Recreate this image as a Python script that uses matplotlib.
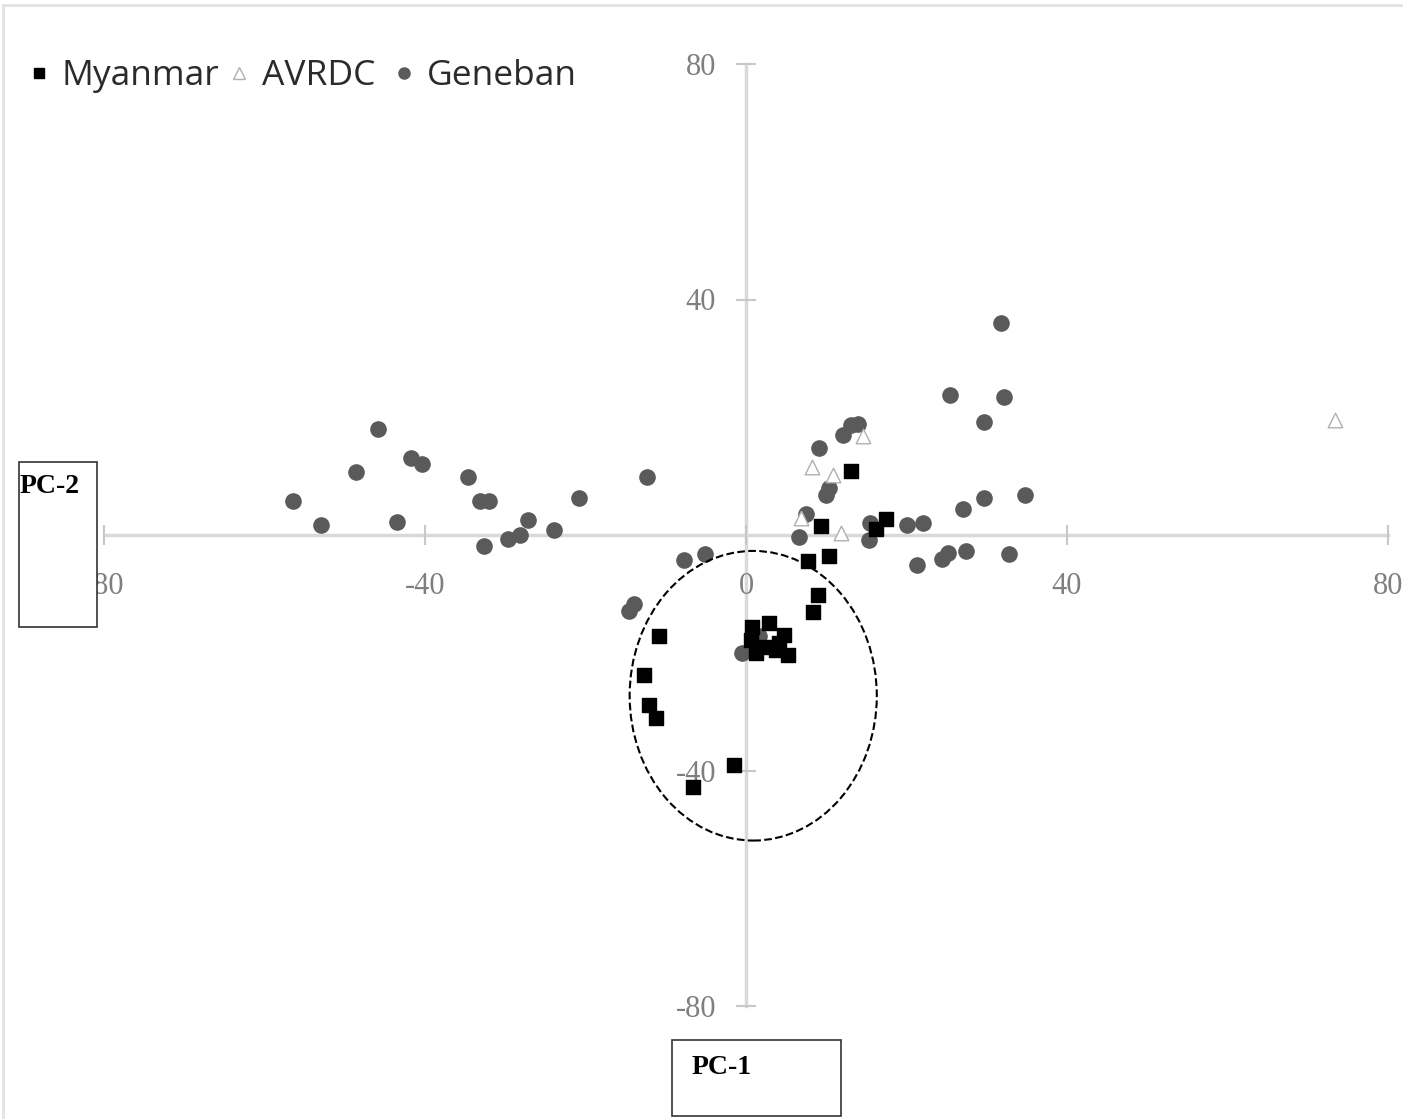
import numpy as np
import matplotlib
matplotlib.use("Agg")
import matplotlib.pyplot as plt
from matplotlib.patches import Ellipse, Rectangle
from matplotlib.lines import Line2D

# PCA scores (PC-1, PC-2)
myanmar_pc1 = [13.1, 9.3, 17.5, 16.2, 10.3, 7.7, 9.0, 8.3, -10.9, -12.7, -12.1, -11.2,
               -1.5, -6.6, 0.7, 2.9, 4.7, 0.6, 1.2, 3.7, 5.2, 4.1, 2.5]
myanmar_pc2 = [10.9, 1.5, 2.7, 1.0, -3.6, -4.4, -10.2, -13.1, -17.1, -23.8, -28.9, -31.1,
               -39.0, -42.8, -15.6, -15.0, -17.0, -17.8, -20.0, -19.6, -20.3, -18.4, -19.0]

avrdc_pc1 = [73.4, 14.6, 8.2, 10.8, 6.8, 11.8]
avrdc_pc2 = [19.5, 16.8, 11.5, 10.2, 2.9, 0.3]

geneban_pc1 = [-56.5, -53.0, -48.6, -45.9, -43.5, -41.8, -40.4, -34.7, -33.2, -32.0,
               -32.6, -29.6, -28.2, -27.2, -23.9, -20.8, -12.3, -7.7, -5.1, -13.9,
               -14.6, -0.5, 1.6, 6.6, 7.5, 10.0, 10.3, 9.1, 12.1, 13.1, 13.9, 15.4,
               15.3, 20.1, 22.1, 27.0, 29.7, 34.8, 21.3, 24.4, 25.2, 27.4, 32.8,
               31.8, 25.4, 32.1, 29.7]
geneban_pc2 = [5.8, 1.7, 10.7, 18.0, 2.2, 13.1, 12.1, 9.8, 5.8, 5.8,
               -1.9, -0.7, 0.0, 2.5, 0.8, 6.3, 9.8, -4.2, -3.2, -11.7,
               -12.9, -20.0, -17.1, -0.3, 3.6, 6.8, 8.0, 14.8, 17.0, 18.7, 18.8, 2.0,
               -0.8, 1.7, 2.0, 4.4, 6.3, 6.8, -5.1, -4.1, -3.1, -2.7, -3.2,
               36.0, 23.8, 23.4, 19.2]

xticks = [-80, -40, 0, 40, 80]
yticks = [-80, -40, 40, 80]

W, H = 1403, 1119
fig = plt.figure(figsize=(W / 100, H / 100), dpi=100)
ax = fig.add_axes([104 / W, 1 - 1006 / H, 1284 / W, 942 / H])

ax.scatter(geneban_pc1, geneban_pc2, s=120, marker="o", color="#5a5a5a", zorder=3)
ax.scatter(avrdc_pc1, avrdc_pc2, s=110, marker="^", facecolor="white",
           edgecolor="#b0b0b0", linewidth=1.0, zorder=3)
ax.scatter(myanmar_pc1, myanmar_pc2, s=90, marker="s", color="black", zorder=4)

ax.add_patch(Ellipse((0.9, -27.3), 30.8, 49.2, fill=False, ls="--",
                     ec="black", lw=1.5, zorder=5))

ax.set_xlim(-80, 80)
ax.set_ylim(-80, 80)
for side in ["top", "right"]:
    ax.spines[side].set_visible(False)
for side in ["left", "bottom"]:
    ax.spines[side].set_position(("data", 0))
    ax.spines[side].set_color("#d9d9d9")
    ax.spines[side].set_linewidth(2.5)
    ax.spines[side].set_zorder(1)
ax.set_xticks(xticks)
ax.set_yticks(yticks)
ax.set_xticklabels([str(t) for t in xticks])
ax.set_yticklabels([str(t) for t in yticks])
ax.tick_params(direction="inout", length=15, width=1.5, color="#c8c8c8",
               labelcolor="#7f7f7f", labelsize=22)
ax.tick_params(axis="x", pad=19)
ax.tick_params(axis="y", pad=14)
for lab in ax.get_xticklabels() + ax.get_yticklabels():
    lab.set_family("Liberation Serif")

handles = [
    Line2D([], [], ls="none", marker="s", ms=7, color="black"),
    Line2D([], [], ls="none", marker="^", ms=8, mfc="white", mec="#b0b0b0", mew=1.0),
    Line2D([], [], ls="none", marker="o", ms=8, color="#5a5a5a"),
]
fig.legend(handles, ["Myanmar", "AVRDC ", "Geneban"], loc="center left",
           bbox_to_anchor=(28 / W, 1 - 76 / H), ncol=3, frameon=False,
           handlelength=0.6, handletextpad=0.35, columnspacing=0.25,
           borderaxespad=0, borderpad=0,
           prop={"family": "Open Sans", "size": 25.5})
for t in fig.legends[0].get_texts():
    t.set_color("#2b2b2b")

# outer frame lines of the chart area
fig.add_artist(Line2D([3 / W, 1], [1 - 5 / H, 1 - 5 / H], color="#e2e2e2", lw=2))
fig.add_artist(Line2D([3 / W, 3 / W], [0, 1 - 5 / H], color="#e2e2e2", lw=2))

# axis title boxes
fig.add_artist(Rectangle((19 / W, 1 - 627 / H), 78 / W, 165 / H, transform=fig.transFigure,
                         facecolor="white", edgecolor="#333333", lw=1.2))
fig.text(20 / W, 1 - 486 / H, "PC-2", family="Liberation Serif", weight="bold",
         size=20, va="center", ha="left")
fig.add_artist(Rectangle((672 / W, 1 - 1116 / H), 169 / W, 76 / H, transform=fig.transFigure,
                         facecolor="white", edgecolor="#333333", lw=1.2))
fig.text(692 / W, 1 - 1067 / H, "PC-1", family="Liberation Serif", weight="bold",
         size=20, va="center", ha="left")

fig.savefig("out.png", dpi=100)
